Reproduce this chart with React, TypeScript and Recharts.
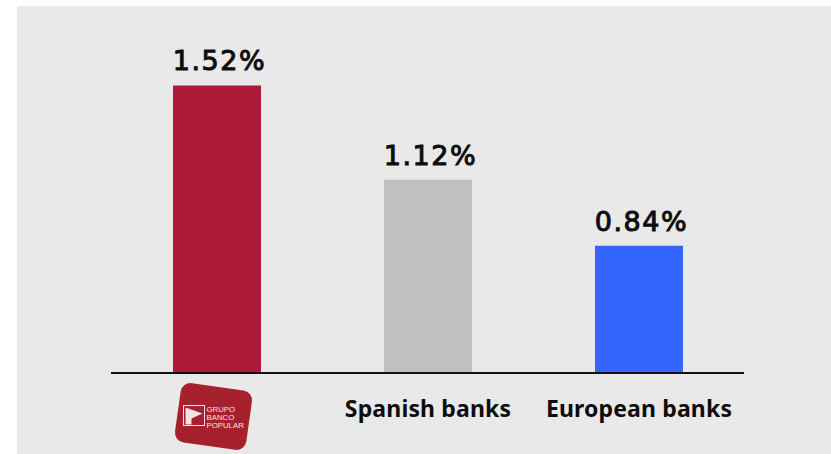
import { Bar, BarChart, Cell, LabelList, XAxis, YAxis } from 'recharts';

const categories = ['Grupo Banco Popular', 'Spanish banks', 'European banks'];
const values = [1.52, 1.12, 0.84];
const barColors = ['#ae1a38', '#c0c0c0', '#3366ff'];
const logoLines = ['GRUPO', 'BANCO', 'POPULAR'];

const chartData = categories.map((name, i) => ({ name, value: values[i] }));
const fontFamily = '"Noto Sans", sans-serif';

// first category is shown as the bank's logo, the others as plain text
const CategoryTick = ({ x, y, payload }: any) => {
  if (payload.value !== categories[0]) {
    return (
      <text x={x + 0.5} y={y + 36} textAnchor="middle" fontFamily={fontFamily} fontSize={23} fontWeight={700} letterSpacing={0.15} fill="#0d0d0d">
        {payload.value}
      </text>
    );
  }
  return (
    <g transform={`translate(${x - 3},${y + 35.5})`}>
      <rect x={-36} y={-30} width={72} height={60} rx={10} fill="#a6212c" transform="rotate(8)" />
      <rect x={-30} y={-11} width={21} height={20} fill="none" stroke="#f3e3e3" strokeWidth={1} />
      <path d="M-28 -9 L-11 -3 L-22 2 L-22 8 L-28 8 Z" fill="#f3e3e3" />
      {logoLines.map((line, i) => (
        <text key={line} x={-7} y={-4.5 + i * 8} fontFamily="Liberation Sans, sans-serif" fontSize={7.8} fill="#f3e3e3">
          {line}
        </text>
      ))}
    </g>
  );
};

const App = () => (
  <div style={{ position: 'absolute', left: 0, top: 0, width: 831, height: 454, background: '#fff', overflow: 'hidden' }}>
    <div style={{ position: 'absolute', left: 17, top: 6, width: 814, height: 448, background: '#e9e9e9' }} />
    <BarChart
      width={831}
      height={454}
      data={chartData}
      margin={{ top: 43, right: 87, bottom: 0, left: 111 }}
      style={{ position: 'absolute', left: 0, top: 0 }}
    >
      <XAxis
        dataKey="name"
        height={81}
        interval={0}
        tickLine={false}
        axisLine={{ stroke: '#111', strokeWidth: 2 }}
        tick={<CategoryTick />}
      />
      <YAxis hide domain={[0.3, 1.7]} />
      <Bar dataKey="value" barSize={88} isAnimationActive={false}>
        {chartData.map((d, i) => (
          <Cell key={d.name} fill={barColors[i]} />
        ))}
        <LabelList
          dataKey="value"
          position="top"
          offset={15}
          dx={2.5}
          formatter={(v: any) => `${v.toFixed(2)}%`}
          style={{
            fontFamily: '"DejaVu Sans", sans-serif',
            fontSize: 27,
            fontWeight: 400,
            fill: '#0d0d0d',
            stroke: '#0d0d0d',
            strokeWidth: 1,
            letterSpacing: 1.5,
          }}
        />
      </Bar>
    </BarChart>
  </div>
);

export default App;
